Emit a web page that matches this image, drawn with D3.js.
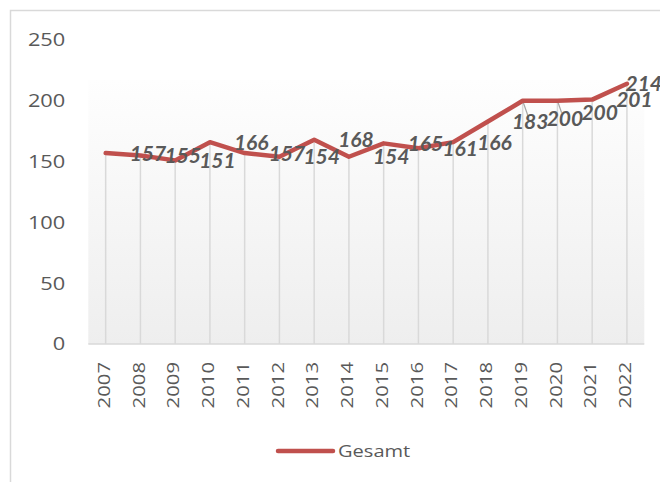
<!DOCTYPE html>
<html>
<head>
<meta charset="utf-8">
<script src="https://cdn.jsdelivr.net/npm/d3@7"></script>
<style>
  html, body { margin: 0; padding: 0; background: #fff; }
  svg { display: block; }
</style>
</head>
<body>
<svg id="chart" width="660" height="482"></svg>
<script>
// Chart data
const years = ['2007', '2008', '2009', '2010', '2011', '2012', '2013', '2014',
               '2015', '2016', '2017', '2018', '2019', '2020', '2021', '2022'];
const gesamt = [157, 155, 151, 166, 157, 154, 168, 154, 165, 161, 166, 183, 200, 200, 201, 214];
const yTicks = [0, 50, 100, 150, 200, 250];
const seriesName = 'Gesamt';

// labels that were dragged down a bit in the original (pixels)
const labelDrop = [0, 0, 0, 0, 0, 0, 0, 0, 0, 0, 0, 0, 18, 12, 0, 0];

const svg = d3.select('#chart');
const lineColor = '#c0504d';
const textColor = '#595959';
const gridColor = '#d9d9d9';
const font = '"Open Sans", sans-serif';
const stretch = 1.18; // the original font runs wider than Open Sans

// chart frame (cut off on right and bottom like the screenshot)
svg.append('rect')
    .attr('x', 10.5).attr('y', 10.5)
    .attr('width', 700).attr('height', 500)
    .attr('fill', '#fff')
    .attr('stroke', gridColor)
    .attr('stroke-width', 1.5);

const plot = { left: 88.3, right: 644.3, top: 40, bottom: 344 };
const chartRight = 662;

const x = d3.scaleBand()
    .domain(years)
    .range([plot.left, plot.right]);

const y = d3.scaleLinear()
    .domain([0, 250])
    .range([plot.bottom, plot.top]);

const cx = d => x(d) + x.bandwidth() / 2;

// soft gradient background of plot area
const defs = svg.append('defs');
const grad = defs.append('linearGradient')
    .attr('id', 'bg')
    .attr('x1', 0).attr('y1', 0).attr('x2', 0).attr('y2', 1);
grad.append('stop').attr('offset', '0%').attr('stop-color', '#fefefe');
grad.append('stop').attr('offset', '100%').attr('stop-color', '#eeeeee');

svg.append('rect')
    .attr('x', plot.left)
    .attr('y', 80)
    .attr('width', plot.right - plot.left)
    .attr('height', plot.bottom - 80)
    .attr('fill', 'url(#bg)');

// y axis labels (no line, no ticks)
const yAxis = svg.append('g')
    .attr('transform', `translate(${plot.left - 23},0)`)
    .call(d3.axisLeft(y).tickValues(yTicks).tickSize(0).tickPadding(0));
yAxis.select('.domain').remove();
yAxis.selectAll('text')
    .attr('fill', textColor)
    .attr('transform', `scale(${stretch},1)`)
    .style('font-family', font)
    .style('font-size', '18.5px');

// drop lines from each point to the axis
svg.append('g')
    .selectAll('line')
    .data(years)
    .join('line')
    .attr('x1', d => cx(d)).attr('x2', d => cx(d))
    .attr('y1', (d, i) => y(gesamt[i]))
    .attr('y2', plot.bottom)
    .attr('stroke', gridColor)
    .attr('stroke-width', 1.5);

// category axis line
svg.append('line')
    .attr('x1', plot.left).attr('x2', plot.right)
    .attr('y1', plot.bottom).attr('y2', plot.bottom)
    .attr('stroke', gridColor)
    .attr('stroke-width', 1.5);

// x axis labels, rotated
const xAxis = svg.append('g')
    .attr('transform', `translate(0,${plot.bottom})`)
    .call(d3.axisBottom(x).tickSize(0).tickPadding(0));
xAxis.select('.domain').remove();
xAxis.selectAll('text')
    .attr('fill', textColor)
    .attr('transform', `rotate(-90) scale(${stretch + 0.05},1)`)
    .attr('x', -18 / (stretch + 0.05))
    .attr('y', -1.5)
    .attr('dy', '0.35em')
    .attr('text-anchor', 'end')
    .style('font-family', font)
    .style('font-size', '16.5px');

// leader lines for the moved labels
svg.append('g')
    .selectAll('line')
    .data(years.filter((d, i) => labelDrop[i] > 0))
    .join('line')
    .attr('x1', d => cx(d))
    .attr('y1', d => y(gesamt[years.indexOf(d)]))
    .attr('x2', d => cx(d) + labelDrop[years.indexOf(d)] * 0.35)
    .attr('y2', d => y(gesamt[years.indexOf(d)]) + labelDrop[years.indexOf(d)])
    .attr('stroke', '#a6a6a6')
    .attr('stroke-width', 1.2);

// the line itself
const line = d3.line()
    .x((d, i) => cx(years[i]))
    .y(d => y(d));

svg.append('path')
    .datum(gesamt)
    .attr('d', line)
    .attr('fill', 'none')
    .attr('stroke', lineColor)
    .attr('stroke-width', 4.5)
    .attr('stroke-linejoin', 'round')
    .attr('stroke-linecap', 'round');

// data labels to the right of each point
const labels = svg.append('g')
    .selectAll('text')
    .data(gesamt)
    .join('text')
    .attr('y', (d, i) => y(d) + labelDrop[i])
    .attr('dy', '0.36em')
    .attr('fill', textColor)
    .style('font-family', 'Lato, sans-serif')
    .style('font-size', '21px')
    .style('font-weight', 'bold')
    .style('font-style', 'italic')
    .text(d => d);

// keep labels inside the chart frame
labels.attr('x', function (d, i) {
    const w = this.getComputedTextLength();
    return Math.min(cx(years[i]) + 24, chartRight - w);
});

// legend
const legend = svg.append('g').attr('transform', 'translate(278,451)');
legend.append('line')
    .attr('x1', 0).attr('x2', 55)
    .attr('stroke', lineColor)
    .attr('stroke-width', 4.5)
    .attr('stroke-linecap', 'round');
legend.append('text')
    .attr('x', 60 / stretch)
    .attr('dy', '0.35em')
    .attr('transform', `scale(${stretch},1)`)
    .attr('fill', textColor)
    .style('font-family', font)
    .style('font-size', '17px')
    .text(seriesName);
</script>
</body>
</html>
